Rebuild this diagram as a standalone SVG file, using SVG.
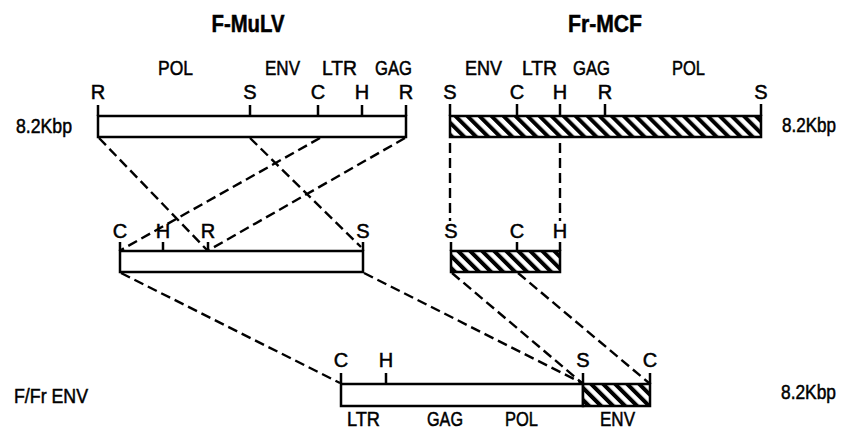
<svg xmlns="http://www.w3.org/2000/svg" width="844" height="430" viewBox="0 0 844 430">
<style>
text{font-family:"Liberation Sans",Arial,sans-serif;font-size:20px;fill:#000;stroke:#000;stroke-width:0.5}
.t{font-weight:bold;font-size:24px;text-anchor:middle}
.m{text-anchor:middle}
.bar{fill:#fff;stroke:#000;stroke-width:2.5}
.hb{fill:url(#hatch);stroke:#000;stroke-width:2.5}
.tk{stroke:#000;stroke-width:2.5;fill:none}
.dash{stroke:#000;stroke-width:2.4;stroke-dasharray:10 5;fill:none}
</style>
<defs>
<pattern id="hatch" patternUnits="userSpaceOnUse" width="8.5" height="8.5" patternTransform="rotate(-45)">
<rect width="8.5" height="8.5" fill="#fff"/>
<rect x="0" y="0" width="4" height="8.5" fill="#000"/>
</pattern>
</defs>
<rect width="844" height="430" fill="#fff"/>

<g id="connectors">
<line class="dash" x1="99" y1="138" x2="207" y2="250"/>
<line class="dash" x1="250" y1="138" x2="361" y2="247"/>
<line class="dash" x1="320" y1="138" x2="121" y2="250"/>
<line class="dash" x1="405" y1="138" x2="209" y2="250"/>
<line class="dash" x1="450" y1="143" x2="450" y2="221"/>
<line class="dash" x1="560" y1="143" x2="560" y2="221"/>
<line class="dash" x1="121" y1="273" x2="340" y2="383"/>
<line class="dash" x1="364" y1="273" x2="582" y2="383"/>
<line class="dash" x1="452" y1="273" x2="582" y2="383"/>
<line class="dash" x1="518" y1="273" x2="649" y2="383"/>
</g>

<g id="title-fmulv"><text class="t" x="248" y="32" textLength="73" lengthAdjust="spacingAndGlyphs">F-MuLV</text></g>
<g id="title-frmcf"><text class="t" x="605" y="32" textLength="74" lengthAdjust="spacingAndGlyphs">Fr-MCF</text></g>

<g id="fmulv">
<rect class="bar" x="98" y="116" width="308" height="21"/>
<path class="tk" d="M98 105V116M250 105V116M318 105V116M362 105V116M406 105V116"/>
<text class="m" x="98" y="99">R</text>
<text class="m" x="250" y="99">S</text>
<text class="m" x="318" y="99">C</text>
<text class="m" x="362" y="99">H</text>
<text class="m" x="406" y="99">R</text>
<text x="158" y="75" textLength="35" lengthAdjust="spacingAndGlyphs">POL</text>
<text x="265" y="75" textLength="35" lengthAdjust="spacingAndGlyphs">ENV</text>
<text x="322" y="75" textLength="35" lengthAdjust="spacingAndGlyphs">LTR</text>
<text x="375" y="75" textLength="37" lengthAdjust="spacingAndGlyphs">GAG</text>
<text x="16" y="133" textLength="56" lengthAdjust="spacingAndGlyphs">8.2Kbp</text>
</g>

<g id="frmcf">
<rect class="hb" x="450" y="116" width="311" height="21"/>
<path class="tk" d="M450 104V116M517 104V116M560 104V116M605 104V116M761 104V116"/>
<text class="m" x="450" y="99">S</text>
<text class="m" x="517" y="99">C</text>
<text class="m" x="560" y="99">H</text>
<text class="m" x="605" y="99">R</text>
<text class="m" x="761" y="99">S</text>
<text x="465" y="75" textLength="37" lengthAdjust="spacingAndGlyphs">ENV</text>
<text x="522" y="75" textLength="35" lengthAdjust="spacingAndGlyphs">LTR</text>
<text x="573" y="75" textLength="37" lengthAdjust="spacingAndGlyphs">GAG</text>
<text x="672" y="75" textLength="33" lengthAdjust="spacingAndGlyphs">POL</text>
<text x="782" y="132" textLength="54" lengthAdjust="spacingAndGlyphs">8.2Kbp</text>
</g>

<g id="fmulv-fragment">
<rect class="bar" x="120" y="251" width="243" height="21"/>
<path class="tk" d="M120 242V251M163 242V251M208 242V251M363 242V251"/>
<text class="m" x="120" y="238">C</text>
<text class="m" x="163" y="238">H</text>
<text class="m" x="208" y="238">R</text>
<text class="m" x="363" y="238">S</text>
</g>

<g id="frmcf-fragment">
<rect class="hb" x="451" y="251" width="109" height="21"/>
<path class="tk" d="M451 242V251M517 242V251M560 242V251"/>
<text class="m" x="451" y="238">S</text>
<text class="m" x="517" y="238">C</text>
<text class="m" x="560" y="238">H</text>
</g>

<g id="ffr-env">
<rect class="bar" x="341" y="384" width="242" height="22"/>
<rect class="hb" x="583" y="384" width="67" height="22"/>
<path class="tk" d="M341 373V384M386 373V384M583 373V384M650 373V384"/>
<text class="m" x="341" y="367">C</text>
<text class="m" x="386" y="367">H</text>
<text class="m" x="583" y="367">S</text>
<text class="m" x="650" y="367">C</text>
<text x="347" y="426" textLength="33" lengthAdjust="spacingAndGlyphs">LTR</text>
<text x="427" y="426" textLength="36" lengthAdjust="spacingAndGlyphs">GAG</text>
<text x="505" y="426" textLength="33" lengthAdjust="spacingAndGlyphs">POL</text>
<text x="600" y="426" textLength="35" lengthAdjust="spacingAndGlyphs">ENV</text>
<text x="14" y="403" textLength="74" lengthAdjust="spacingAndGlyphs">F/Fr ENV</text>
<text x="781" y="399" textLength="55" lengthAdjust="spacingAndGlyphs">8.2Kbp</text>
</g>
</svg>
